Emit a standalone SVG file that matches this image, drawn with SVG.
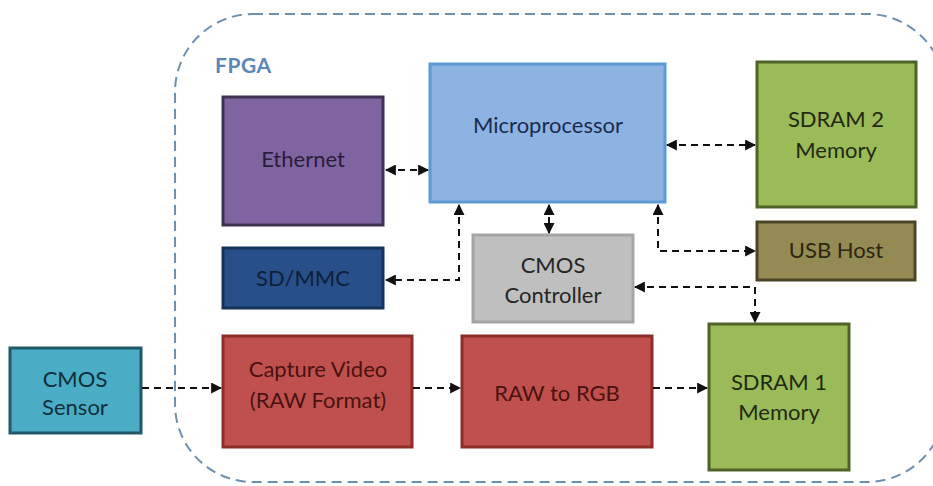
<svg xmlns="http://www.w3.org/2000/svg" width="933" height="486" viewBox="0 0 933 486">
  <defs>
    <marker id="arrow" viewBox="0 0 10 10" refX="9" refY="5" markerWidth="5.5" markerHeight="5.5" orient="auto-start-reverse" markerUnits="strokeWidth">
      <path d="M0,0 L10,5 L0,10 z" fill="#111"/>
    </marker>
    <style>
      .box { stroke-width: 3; }
      .lbl { font-family: Lato, "Liberation Sans", sans-serif; font-size: 22px; text-anchor: middle; }
      .conn { fill: none; stroke: #111; stroke-width: 2; stroke-dasharray: 7 5; }
      .both { marker-start: url(#arrow); marker-end: url(#arrow); }
      .end { marker-end: url(#arrow); }
    </style>
  </defs>

  <rect width="933" height="486" fill="#ffffff"/>

  <!-- FPGA boundary -->
  <g id="fpga">
    <rect x="175" y="14" width="770" height="468" rx="78" ry="78" fill="none" stroke="#6f8fb0" stroke-width="2" stroke-dasharray="10 6"/>
    <text x="215" y="73" font-family="Lato, 'Liberation Sans', sans-serif" font-size="21" font-weight="bold" letter-spacing="0.5" fill="#5b86b8">FPGA</text>
  </g>

  <g id="ethernet">
    <rect class="box" x="223" y="97" width="160" height="128" fill="#8064a2" stroke="#3f3151"/>
    <text class="lbl" x="303" y="167" fill="#2a1c3c">Ethernet</text>
  </g>

  <g id="sdmmc">
    <rect class="box" x="223" y="248" width="160" height="60" fill="#27508a" stroke="#17325a"/>
    <text class="lbl" x="303" y="286" fill="#0e1f38">SD/MMC</text>
  </g>

  <g id="microprocessor">
    <rect class="box" x="430" y="64" width="235" height="138" fill="#8db3e2" stroke="#5b9bd5"/>
    <text class="lbl" x="548" y="133" fill="#1a2c4e">Microprocessor</text>
  </g>

  <g id="sdram2">
    <rect class="box" x="757" y="62" width="159" height="145" fill="#9bbb59" stroke="#4f6228"/>
    <text class="lbl" x="836" y="127" fill="#1f2a0e">SDRAM 2</text>
    <text class="lbl" x="836" y="158" fill="#1f2a0e">Memory</text>
  </g>

  <g id="usbhost">
    <rect class="box" x="757" y="222" width="158" height="58" fill="#948a54" stroke="#4a4526"/>
    <text class="lbl" x="836" y="258" fill="#2a2710">USB Host</text>
  </g>

  <g id="cmoscontroller">
    <rect class="box" x="473" y="235" width="160" height="87" fill="#bfbfbf" stroke="#a5a5a5"/>
    <text class="lbl" x="553" y="273" fill="#262626">CMOS</text>
    <text class="lbl" x="553" y="303" fill="#262626">Controller</text>
  </g>

  <g id="cmossensor">
    <rect class="box" x="10" y="348" width="131" height="85" fill="#4bacc6" stroke="#215968"/>
    <text class="lbl" x="75" y="387" fill="#0f2f3a">CMOS</text>
    <text class="lbl" x="75" y="415" fill="#0f2f3a">Sensor</text>
  </g>

  <g id="capturevideo">
    <rect class="box" x="223" y="336" width="189" height="111" fill="#c0504d" stroke="#8c2d2a"/>
    <text class="lbl" x="318" y="377" fill="#4a1210">Capture Video</text>
    <text class="lbl" x="318" y="408" fill="#4a1210">(RAW Format)</text>
  </g>

  <g id="rawtorgb">
    <rect class="box" x="462" y="336" width="190" height="111" fill="#c0504d" stroke="#8c2d2a"/>
    <text class="lbl" x="557" y="401" fill="#4a1210">RAW to RGB</text>
  </g>

  <g id="sdram1">
    <rect class="box" x="709" y="324" width="140" height="146" fill="#9bbb59" stroke="#4f6228"/>
    <text class="lbl" x="779" y="390" fill="#1f2a0e">SDRAM 1</text>
    <text class="lbl" x="779" y="420" fill="#1f2a0e">Memory</text>
  </g>

  <!-- connectors -->
  <g id="connectors">
    <path class="conn both" d="M386,170 H428"/>
    <path class="conn both" d="M667,145 H755"/>
    <path class="conn both" d="M549,205 V233"/>
    <path class="conn both" d="M459,205 V280 H386"/>
    <path class="conn both" d="M658,205 V251 H755"/>
    <path class="conn both" d="M635,287 H755 V322"/>
    <path class="conn end" d="M142,388 H221"/>
    <path class="conn end" d="M413,388 H460"/>
    <path class="conn end" d="M653,388 H707"/>
  </g>
</svg>
